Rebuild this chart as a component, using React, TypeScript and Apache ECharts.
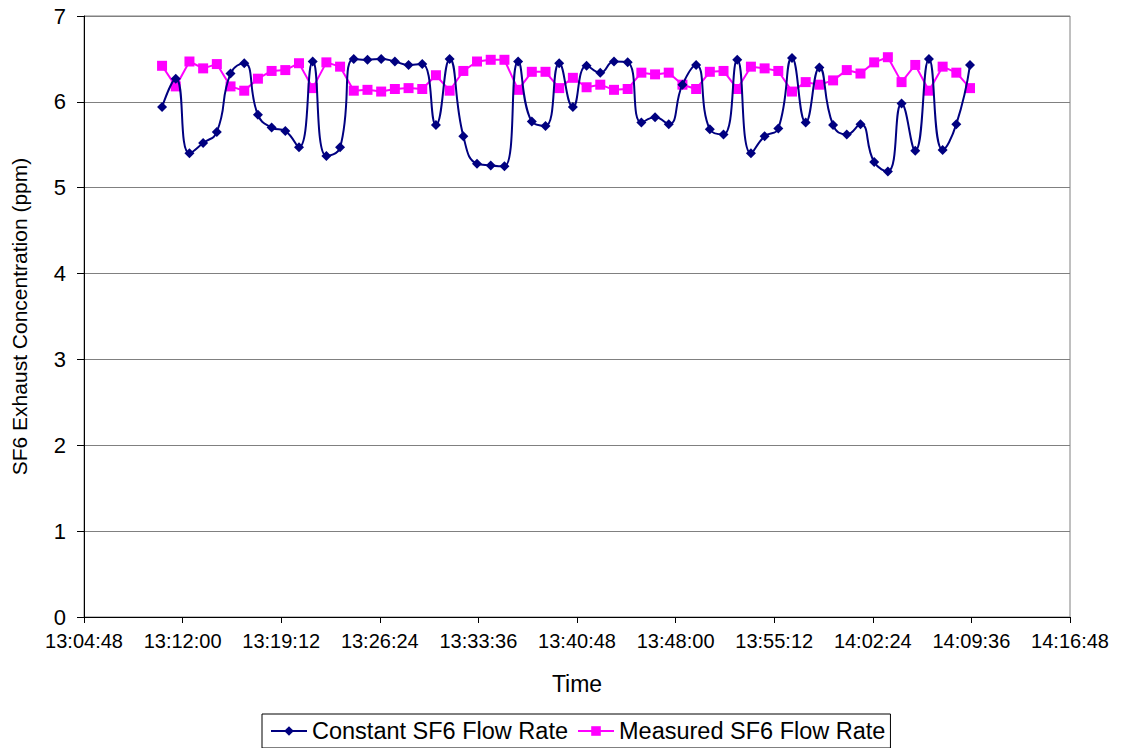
import React, { useEffect, useRef } from "react";
import * as echarts from "echarts";

const times: string[] = [
  "13:10:30", "13:11:30", "13:12:30", "13:13:30", "13:14:30", "13:15:30", "13:16:30", "13:17:30", "13:18:30", "13:19:30",
  "13:20:30", "13:21:30", "13:22:30", "13:23:30", "13:24:30", "13:25:30", "13:26:30", "13:27:30", "13:28:30", "13:29:30",
  "13:30:30", "13:31:30", "13:32:30", "13:33:30", "13:34:30", "13:35:30", "13:36:30", "13:37:30", "13:38:30", "13:39:30",
  "13:40:30", "13:41:30", "13:42:30", "13:43:30", "13:44:30", "13:45:30", "13:46:30", "13:47:30", "13:48:30", "13:49:30",
  "13:50:30", "13:51:30", "13:52:30", "13:53:30", "13:54:30", "13:55:30", "13:56:30", "13:57:30", "13:58:30", "13:59:30",
  "14:00:30", "14:01:30", "14:02:30", "14:03:30", "14:04:30", "14:05:30", "14:06:30", "14:07:30", "14:08:30", "14:09:30",
];

const constantFlow: number[] = [
  5.94, 6.27, 5.40, 5.52, 5.65, 6.33, 6.45, 5.85, 5.70, 5.66,
  5.47, 6.47, 5.37, 5.47, 6.50, 6.49, 6.50, 6.47, 6.43, 6.44,
  5.73, 6.50, 5.60, 5.28, 5.26, 5.25, 6.47, 5.77, 5.72, 6.45,
  5.94, 6.42, 6.34, 6.47, 6.46, 5.76, 5.82, 5.74, 6.20, 6.43,
  5.68, 5.62, 6.49, 5.40, 5.60, 5.69, 6.51, 5.76, 6.40, 5.73,
  5.62, 5.74, 5.30, 5.19, 5.98, 5.43, 6.50, 5.44, 5.74, 6.43,
];

const measuredFlow: number[] = [
  6.42, 6.18, 6.47, 6.39, 6.44, 6.18, 6.13, 6.27, 6.36, 6.37,
  6.45, 6.16, 6.46, 6.41, 6.13, 6.14, 6.12, 6.15, 6.16, 6.15,
  6.31, 6.13, 6.36, 6.47, 6.49, 6.49, 6.14, 6.35, 6.35, 6.16,
  6.28, 6.17, 6.20, 6.14, 6.15, 6.34, 6.32, 6.34, 6.20, 6.15,
  6.35, 6.36, 6.15, 6.41, 6.39, 6.36, 6.12, 6.23, 6.20, 6.25,
  6.37, 6.33, 6.46, 6.52, 6.23, 6.43, 6.13, 6.41, 6.34, 6.16,
];

const seriesNames = ["Constant SF6 Flow Rate", "Measured SF6 Flow Rate"];
const xMinLabel = "13:04:48";
const xMaxLabel = "14:16:48";
const xStepSeconds = 432;

const toSec = (t: string) => {
  const [h, m, s] = t.split(":").map(Number);
  return h * 3600 + m * 60 + s;
};
const fmt = (v: number) => {
  const h = Math.floor(v / 3600);
  const m = Math.floor((v % 3600) / 60);
  const s = Math.round(v % 60);
  const p = (n: number) => String(n).padStart(2, "0");
  return `${h}:${p(m)}:${p(s)}`;
};

const FONT = "'Liberation Sans', Arial, sans-serif";

export default function App() {
  const ref = useRef<HTMLDivElement>(null);
  useEffect(() => {
    if (!ref.current) return;
    const chart = echarts.init(ref.current, null, { renderer: "svg" });
    chart.setOption({
      animation: false,
      backgroundColor: "#ffffff",
      textStyle: { fontFamily: FONT, color: "#000" },
      grid: {
        left: 84,
        top: 16,
        width: 986,
        height: 601,
        show: true,
        borderColor: "#808080",
        borderWidth: 1,
        backgroundColor: "transparent",
      },
      legend: {
        left: 262,
        top: 714,
        orient: "horizontal",
        padding: [5, 5, 5, 8],
        itemGap: 9,
        itemWidth: 36,
        itemHeight: 12,
        borderColor: "#000",
        borderWidth: 1,
        borderRadius: 0,
        textStyle: { fontFamily: FONT, fontSize: 23.5, color: "#000" },
        data: seriesNames,
      },
      xAxis: {
        type: "value",
        min: toSec(xMinLabel),
        max: toSec(xMaxLabel),
        interval: xStepSeconds,
        name: "Time",
        nameLocation: "middle",
        nameGap: 55,
        nameTextStyle: { fontFamily: FONT, fontSize: 23, color: "#000" },
        axisLine: { show: true, lineStyle: { color: "#000", width: 1 } },
        axisTick: { show: true, inside: false, length: 6, lineStyle: { color: "#000" } },
        splitLine: { show: false },
        axisLabel: {
          formatter: (v: number) => fmt(v),
          fontFamily: FONT,
          fontSize: 20,
          color: "#000",
          margin: 14,
          showMinLabel: true,
          showMaxLabel: true,
          hideOverlap: false,
        },
      },
      yAxis: {
        type: "value",
        min: 0,
        max: 7,
        interval: 1,
        name: "SF6 Exhaust Concentration (ppm)",
        nameLocation: "middle",
        nameGap: 54,
        nameTextStyle: { fontFamily: FONT, fontSize: 21, color: "#000" },
        axisLine: { show: true, lineStyle: { color: "#000", width: 1 } },
        axisTick: { show: true, inside: false, length: 7, lineStyle: { color: "#000" } },
        splitLine: { show: true, lineStyle: { color: "#808080", width: 1 } },
        axisLabel: { fontFamily: FONT, fontSize: 22, color: "#000", margin: 18 },
      },
      series: [
        {
          name: seriesNames[0],
          type: "line",
          smooth: 0.5,
          data: times.map((t, i) => [toSec(t), constantFlow[i]]),
          symbol: "diamond",
          symbolSize: 10,
          itemStyle: { color: "#000080" },
          lineStyle: { color: "#000080", width: 2 },
          z: 3,
        },
        {
          name: seriesNames[1],
          type: "line",
          smooth: false,
          data: times.map((t, i) => [toSec(t), measuredFlow[i]]),
          symbol: "rect",
          symbolSize: 10,
          itemStyle: { color: "#FF00FF" },
          lineStyle: { color: "#FF00FF", width: 2 },
          z: 2,
        },
      ],
    });
    return () => chart.dispose();
  }, []);
  return (
    <div
      ref={ref}
      style={{ position: "absolute", left: 0, top: 0, width: 1121, height: 748 }}
    />
  );
}
